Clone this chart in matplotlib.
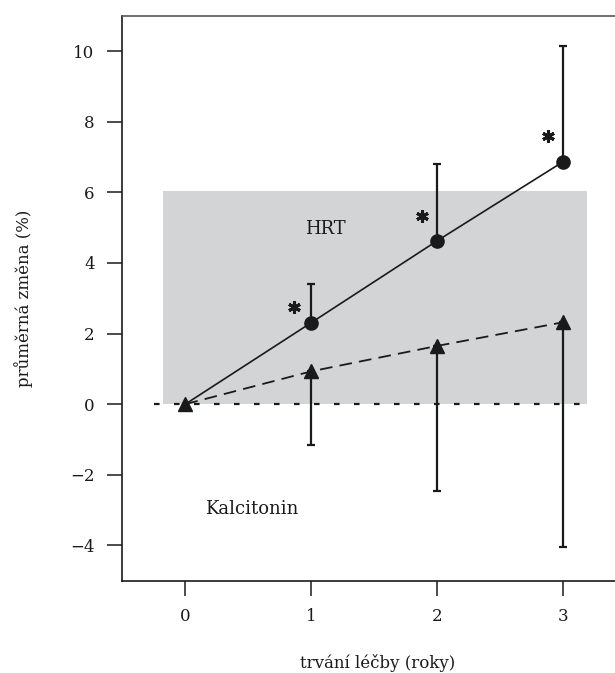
import matplotlib
matplotlib.use("Agg")
import matplotlib.pyplot as plt

# data
years = [0, 1, 2, 3]
hrt_mean = [0.0, 2.31, 4.63, 6.87]
hrt_upper = [0.0, 3.40, 6.81, 10.15]
kal_mean = [0.0, 0.93, 1.65, 2.32]
kal_lower = [0.0, -1.16, -2.47, -4.05]
star_x = [0.86, 1.88, 2.88]
star_y = [2.74, 5.33, 7.59]
yticks = [-4, -2, 0, 2, 4, 6, 8, 10]
xticks = [0, 1, 2, 3]
band_x = [-0.175, 3.19]
band_y = [0.0, 6.04]

plt.rcParams['font.family'] = ['DejaVu Serif']

fig = plt.figure(figsize=(6.15, 6.73), dpi=100)
ax = fig.add_axes([122.4/615, 92.3/673, 504/615, 565/673])
ax.set_xlim(-0.5, 3.5)
ax.set_ylim(-5, 11)

# grey band
ax.fill_between(band_x, band_y[0], band_y[1], color='#d3d4d6', lw=0, zorder=0)
# dotted zero line
ax.plot([-0.25, 3.19], [0, 0], color='#1a1a1a', lw=1.6, ls=(0, (2.5, 6.5)), zorder=1)

# HRT
up = [u - m for u, m in zip(hrt_upper, hrt_mean)]
ax.errorbar(years[1:], hrt_mean[1:], yerr=[[0]*3, up[1:]], fmt='none',
            ecolor='#1a1a1a', elinewidth=1.6, capsize=3, capthick=1.6, zorder=2)
ax.plot(years, hrt_mean, color='#1a1a1a', lw=1.2, zorder=3)
ax.plot(years[1:], hrt_mean[1:], 'o', color='#1a1a1a', ms=9.5, zorder=4)

# Kalcitonin
dn = [m - l for m, l in zip(kal_mean, kal_lower)]
ax.errorbar(years[1:], kal_mean[1:], yerr=[dn[1:], [0]*3], fmt='none',
            ecolor='#1a1a1a', elinewidth=1.6, capsize=3, capthick=1.6, zorder=2)
ax.plot(years, kal_mean, color='#1a1a1a', lw=1.3, ls=(0, (7, 4)), zorder=3)
ax.plot(years, kal_mean, '^', color='#1a1a1a', ms=10, zorder=5)

# asterisks
ax.plot(star_x, star_y, ls='none', marker=(6, 2, 0), ms=9, mew=2.2, color='#1a1a1a')

ax.text(1.114, 4.95, 'HRT', fontsize=13, ha='center', va='center', color='#1a1a1a')
ax.text(0.53, -2.97, 'Kalcitonin', fontsize=13, ha='center', va='center', color='#1a1a1a')

ax.set_xticks(xticks)
ax.set_yticks(yticks)
ax.set_yticklabels([str(v).replace('-', '\u2212') for v in yticks])
ax.tick_params(axis='both', direction='out', length=11, width=1.1, labelsize=12,
               colors='#1a1a1a')
ax.tick_params(axis='y', pad=9)
ax.tick_params(axis='x', pad=9)
for s in ['left', 'bottom', 'top']:
    ax.spines[s].set_linewidth(1.2)
    ax.spines[s].set_color('#1a1a1a')
ax.spines['top'].set_color('#555555')
ax.spines['right'].set_visible(False)

fig.text(378/615, 1 - 663/673, 'trvání léčby (roky)', fontsize=12, ha='center', va='center', color='#1a1a1a')
fig.text(24/615, 1 - 298/673, 'průměrná změna (%)', fontsize=12, ha='center', va='center',
         rotation=90, color='#1a1a1a')

fig.savefig('out.png', dpi=100)
